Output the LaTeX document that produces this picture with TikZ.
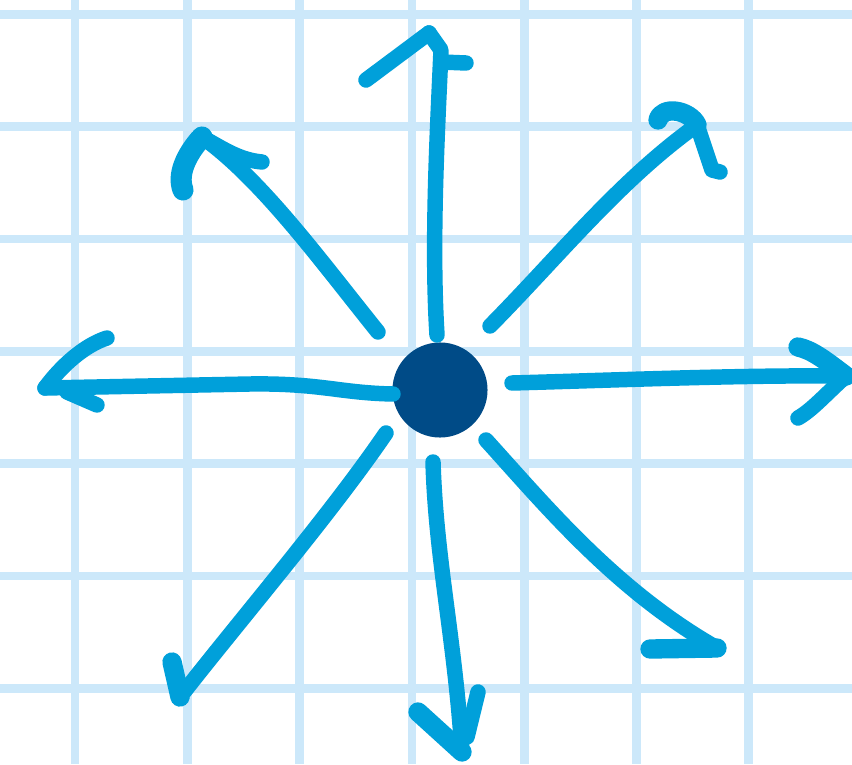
\documentclass[tikz,border=0pt]{standalone}
\definecolor{gridblue}{RGB}{204,232,250}
\definecolor{penblue}{RGB}{0,160,218}
\definecolor{dotblue}{RGB}{0,75,135}
\usepackage{tikz}
\begin{document}
\begin{tikzpicture}[x=0.01cm, y=-0.01cm,
      gridln/.style={line width=2.5pt, color=gridblue},
      pen/.style={line width=4.4pt, color=penblue, line cap=round, line join=round},
      hub/.style={circle, fill=dotblue, minimum size=0.95cm, inner sep=0pt}
  ]
    \useasboundingbox (0,0) rectangle (852,764);
    \clip (0,0) rectangle (852,764);
    \fill[white] (0,0) rectangle (852,764);
    \foreach \gx in {75,187.3,299.6,411.9,524.2,636.5,748.8}
      \draw[gridln] (\gx,0) -- (\gx,764);
    \foreach \gy in {14.5,126.8,239.1,351.4,463.7,576,688.3}
      \draw[gridln] (0,\gy) -- (852,\gy);

    \node[hub] (hub) at (440,390) {};

    \coordinate (nt)  at (437,335);  \coordinate (nh)  at (429,33);
    \coordinate (net) at (490,326);  \coordinate (neh) at (697,125);
    \coordinate (et)  at (512,383);  \coordinate (eh)  at (846,376);
    \coordinate (set) at (486,440);  \coordinate (seh) at (717,648);
    \coordinate (st)  at (433,462);  \coordinate (sh)  at (462,752);
    \coordinate (swt) at (386,433);  \coordinate (swh) at (180,697);
    \coordinate (wt)  at (393,394);  \coordinate (wh)  at (45,388);
    \coordinate (nwt) at (378,332);  \coordinate (nwh) at (202,137);

    \draw[pen] (nt) .. controls (431,240) and (438,120) .. (441,50) -- (nh);
    \draw[pen] (nh) -- ++(-63,47);
    \draw[pen] (nh) ++(12,29) -- ++(25,1);

    \draw[pen] (net) .. controls (560,255) and (620,180) .. (neh);
    \draw[pen, line width=5.5pt] (neh) .. controls (690,110) and (662,105) .. (658,120);
    \draw[pen] (neh) -- (712,170) -- (720,172);

    \draw[pen] (et) .. controls (620,380) and (740,375) .. (eh);
    \draw[pen, line width=5.5pt] (eh) .. controls (825,360) and (812,350) .. (798,347);
    \draw[pen] (eh) .. controls (825,395) and (812,410) .. (798,418);

    \draw[pen] (set) .. controls (545,505) and (615,590) .. (seh);
    \draw[pen, line width=5.5pt] (seh) -- (650,649);

    \draw[pen] (st) .. controls (436,560) and (455,640) .. (sh);
    \draw[pen, line width=5.5pt] (sh) -- (418,712);
    \draw[pen] (sh) ++(5,-15) -- (478,692);

    \draw[pen] (swt) .. controls (330,515) and (240,620) .. (swh);
    \draw[pen, line width=5.5pt] (swh) -- (172,662);

    \draw[pen] (wt) .. controls (340,393) and (320,383) .. (250,384) -- (wh);
    \draw[pen] (wh) .. controls (62,365) and (85,345) .. (107,338);
    \draw[pen] (wh) ++(22,4) -- (97,405);

    \draw[pen] (nwt) .. controls (320,260) and (262,180) .. (nwh);
    \draw[pen, line width=6pt] (nwh) .. controls (190,150) and (176,172) .. (183,190);
    \draw[pen] (nwh) .. controls (225,150) and (240,160) .. (262,162);
  \end{tikzpicture}
\end{document}
